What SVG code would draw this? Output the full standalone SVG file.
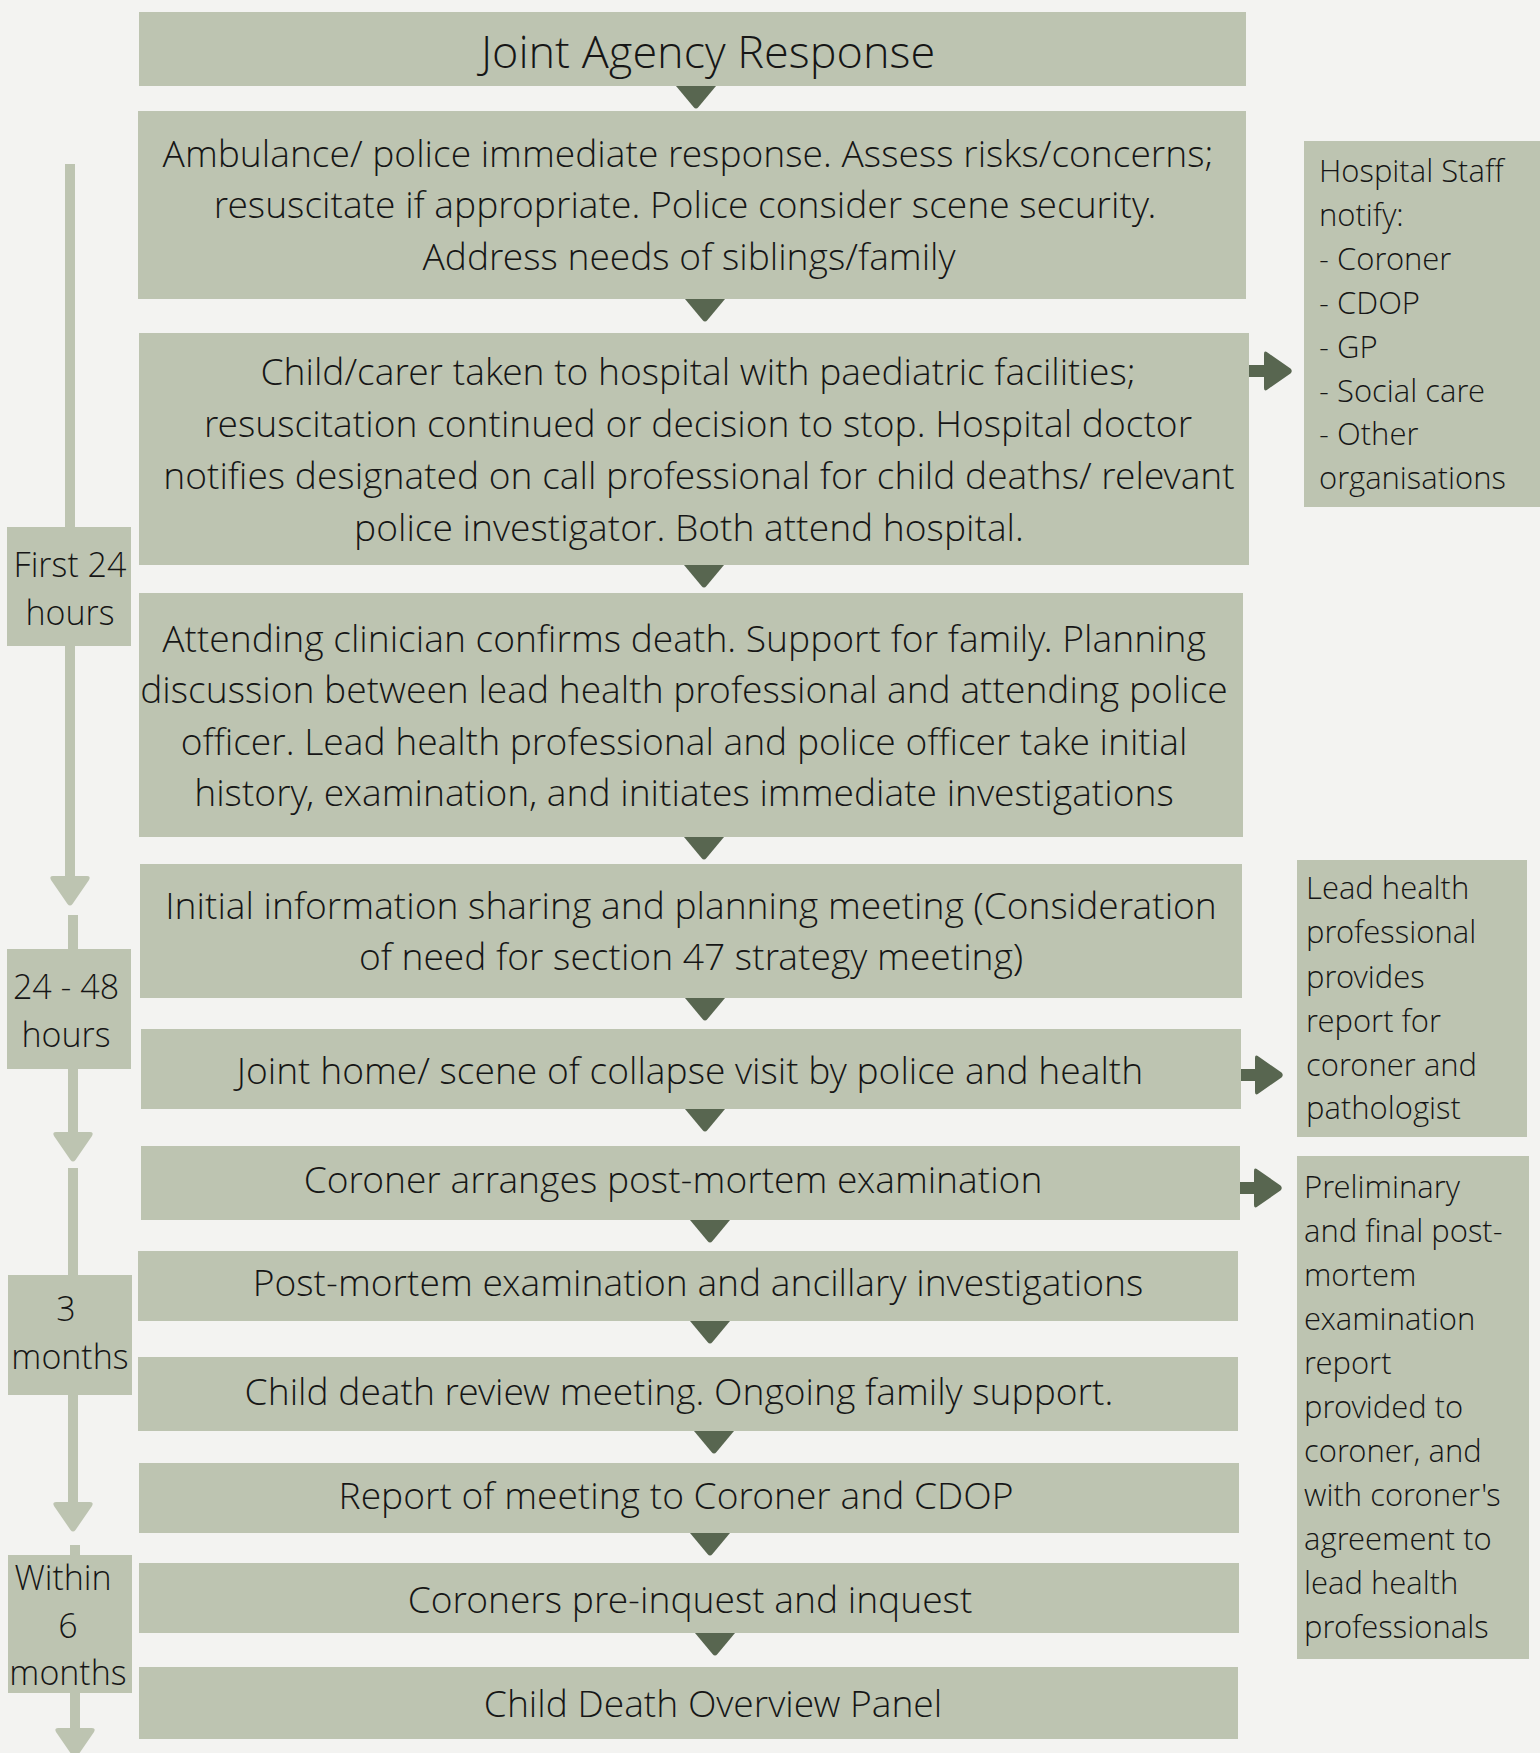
<svg xmlns="http://www.w3.org/2000/svg" width="1540" height="1753" viewBox="0 0 1540 1753">
<style>
.bg{fill:#F3F3F1}
.box{fill:#BDC4B1}
.tl{fill:#BDC4B1}
.dk{fill:#586650}
text{font-family:"Open Sans Light","Open Sans","Noto Sans","Liberation Sans",sans-serif;font-weight:300;fill:#161616}
.t{font-size:37.2px;text-anchor:middle}
.h{font-size:45px;text-anchor:middle}
.s{font-size:31px}
.l{font-size:34px;text-anchor:middle}
</style>
<defs>
<path id="dn" d="M-20,0 H20 L2.5,21 Q0,24 -2.5,21 Z"/>
<path id="rt" d="M0,-6 H15 V-17 Q15,-21 18.5,-18.5 L41.5,-2.5 Q44,0 41.5,2.5 L18.5,18.5 Q15,21 15,17 V6 H0 Z"/>
<path id="tdn" d="M-17,0 H17 Q21,0 19,4 L2.5,28 Q0,31 -2.5,28 L-19,4 Q-21,0 -17,0 Z"/>
</defs>
<rect class="bg" x="0" y="0" width="1540" height="1753"/>

<g id="connectors">
<use href="#dn" class="dk" x="696" y="86"/>
<use href="#dn" class="dk" x="705" y="299"/>
<use href="#dn" class="dk" x="704" y="565"/>
<use href="#dn" class="dk" x="704" y="837"/>
<use href="#dn" class="dk" x="705" y="998"/>
<use href="#dn" class="dk" x="705" y="1109"/>
<use href="#dn" class="dk" x="710" y="1220"/>
<use href="#dn" class="dk" x="710" y="1321"/>
<use href="#dn" class="dk" x="714" y="1431"/>
<use href="#dn" class="dk" x="710" y="1533"/>
<use href="#dn" class="dk" x="715" y="1633"/>
<use href="#rt" class="dk" x="1249" y="371"/>
<use href="#rt" class="dk" x="1240" y="1075"/>
<use href="#rt" class="dk" x="1239" y="1188"/>
</g>

<g id="timeline">
<rect class="tl" x="65" y="164" width="10" height="713"/>
<use href="#tdn" class="tl" x="70" y="876"/>
<rect class="tl" x="68" y="915" width="10" height="218"/>
<use href="#tdn" class="tl" x="73" y="1132"/>
<rect class="tl" x="68" y="1168" width="10" height="335"/>
<use href="#tdn" class="tl" x="73" y="1502"/>
<rect class="tl" x="70" y="1545" width="10" height="184"/>
<use href="#tdn" class="tl" x="75" y="1728"/>
</g>

<g id="t1"><rect class="box" x="7" y="527" width="124" height="119"/>
<text class="l" x="70" y="577">First 24</text><text class="l" x="70" y="625">hours</text></g>
<g id="t2"><rect class="box" x="7" y="949" width="124" height="120"/>
<text class="l" x="66" y="999">24 - 48</text><text class="l" x="66" y="1047">hours</text></g>
<g id="t3"><rect class="box" x="8" y="1275" width="124" height="120"/>
<text class="l" x="66" y="1321">3</text><text class="l" x="70" y="1369">months</text></g>
<g id="t4"><rect class="box" x="8" y="1555" width="124" height="138"/>
<text class="l" x="63" y="1590">Within</text><text class="l" x="68" y="1638">6</text><text class="l" x="68" y="1685">months</text></g>

<g id="n1"><rect class="box" x="139" y="12" width="1107" height="74"/>
<text class="h" x="708" y="68">Joint Agency Response</text></g>

<g id="n2"><rect class="box" x="138" y="111" width="1108" height="188"/>
<text class="t" x="688" y="167">Ambulance/ police immediate response. Assess risks/concerns;</text>
<text class="t" x="685" y="218">resuscitate if appropriate. Police consider scene security.</text>
<text class="t" x="689" y="270">Address needs of siblings/family</text></g>

<g id="n3"><rect class="box" x="139" y="333" width="1110" height="232"/>
<text class="t" x="698" y="385">Child/carer taken to hospital with paediatric facilities;</text>
<text class="t" x="698" y="437">resuscitation continued or decision to stop. Hospital doctor</text>
<text class="t" x="699" y="489">notifies designated on call professional for child deaths/ relevant</text>
<text class="t" x="689" y="541">police investigator. Both attend hospital.</text></g>

<g id="n4"><rect class="box" x="139" y="593" width="1104" height="244"/>
<text class="t" x="684" y="652">Attending clinician confirms death. Support for family. Planning</text>
<text class="t" x="684" y="703">discussion between lead health professional and attending police</text>
<text class="t" x="684" y="755">officer. Lead health professional and police officer take initial</text>
<text class="t" x="684" y="806">history, examination, and initiates immediate investigations</text></g>

<g id="n5"><rect class="box" x="140" y="864" width="1102" height="134"/>
<text class="t" x="691" y="919">Initial information sharing and planning meeting (Consideration</text>
<text class="t" x="691" y="970">of need for section 47 strategy meeting)</text></g>

<g id="n6"><rect class="box" x="141" y="1029" width="1100" height="80"/>
<text class="t" x="690" y="1084">Joint home/ scene of collapse visit by police and health</text></g>

<g id="n7"><rect class="box" x="141" y="1146" width="1099" height="74"/>
<text class="t" x="673" y="1193">Coroner arranges post-mortem examination</text></g>

<g id="n8"><rect class="box" x="138" y="1251" width="1100" height="70"/>
<text class="t" x="698" y="1296">Post-mortem examination and ancillary investigations</text></g>

<g id="n9"><rect class="box" x="138" y="1357" width="1100" height="74"/>
<text class="t" x="679" y="1405">Child death review meeting. Ongoing family support.</text></g>

<g id="n10"><rect class="box" x="139" y="1463" width="1100" height="70"/>
<text class="t" x="676" y="1509">Report of meeting to Coroner and CDOP</text></g>

<g id="n11"><rect class="box" x="139" y="1563" width="1100" height="70"/>
<text class="t" x="690" y="1613">Coroners pre-inquest and inquest</text></g>

<g id="n12"><rect class="box" x="139" y="1667" width="1099" height="72"/>
<text class="t" x="713" y="1717">Child Death Overview Panel</text></g>

<g id="s1"><rect class="box" x="1304" y="141" width="236" height="366"/>
<text class="s" x="1319" y="182">Hospital Staff</text>
<text class="s" x="1319" y="226">notify:</text>
<text class="s" x="1319" y="270">- Coroner</text>
<text class="s" x="1319" y="314">- CDOP</text>
<text class="s" x="1319" y="358">- GP</text>
<text class="s" x="1319" y="402">- Social care</text>
<text class="s" x="1319" y="445">- Other</text>
<text class="s" x="1319" y="489">organisations</text></g>

<g id="s2"><rect class="box" x="1297" y="860" width="230" height="277"/>
<text class="s" x="1306" y="899">Lead health</text>
<text class="s" x="1306" y="943">professional</text>
<text class="s" x="1306" y="988">provides</text>
<text class="s" x="1306" y="1032">report for</text>
<text class="s" x="1306" y="1076">coroner and</text>
<text class="s" x="1306" y="1119">pathologist</text></g>

<g id="s3"><rect class="box" x="1297" y="1156" width="232" height="503"/>
<text class="s" x="1304" y="1198">Preliminary</text>
<text class="s" x="1304" y="1242">and final post-</text>
<text class="s" x="1304" y="1286">mortem</text>
<text class="s" x="1304" y="1330">examination</text>
<text class="s" x="1304" y="1374">report</text>
<text class="s" x="1304" y="1418">provided to</text>
<text class="s" x="1304" y="1462">coroner, and</text>
<text class="s" x="1304" y="1506">with coroner's</text>
<text class="s" x="1304" y="1550">agreement to</text>
<text class="s" x="1304" y="1594">lead health</text>
<text class="s" x="1304" y="1638">professionals</text></g>
</svg>
